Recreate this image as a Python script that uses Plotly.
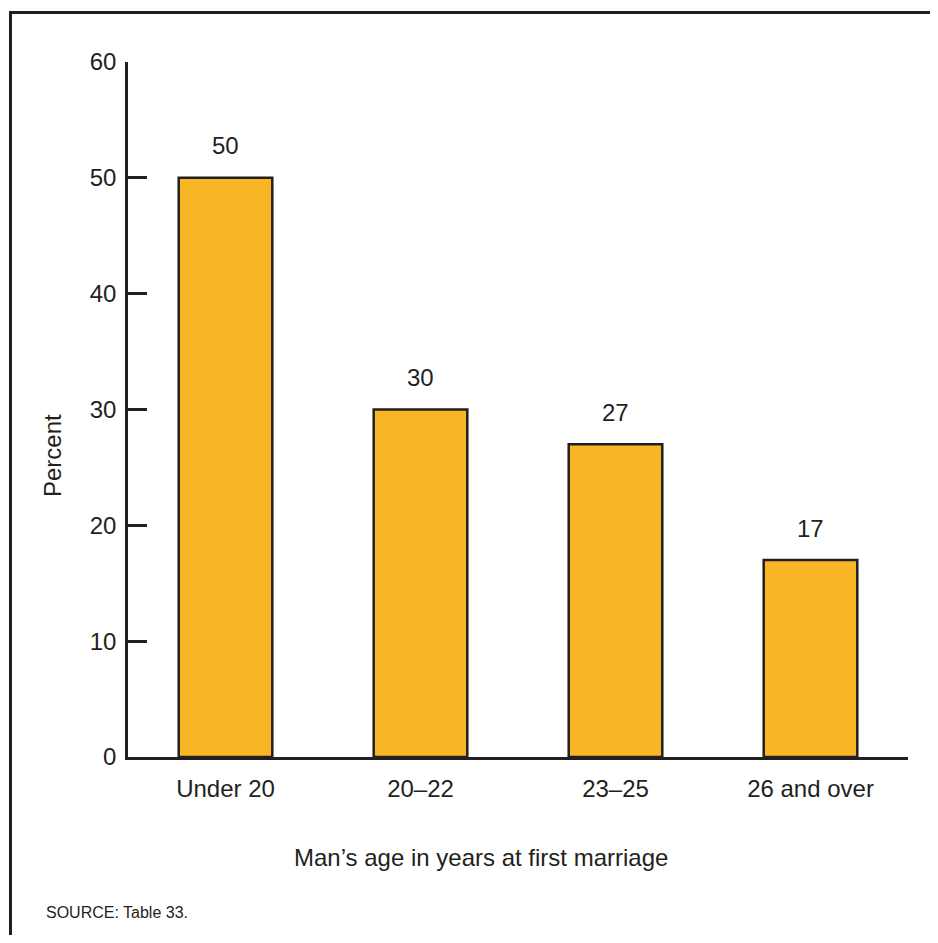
import plotly.graph_objects as go

categories = ["Under 20", "20–22", "23–25", "26 and over"]
values = [50, 30, 27, 17]
y_ticks = [0, 10, 20, 30, 40, 50, 60]

OFF = 8  # page body margin in the browser
W, H = 938 - OFF, 943 - 2 * OFF
L, R, T, B = 128 - OFF, 908 - OFF, 62 - OFF, 757 - OFF
ink = "#231f20"
font = "Liberation Sans, Arial, Helvetica, sans-serif"
FS = 24

def px(x):
    return (x - OFF - L) / (R - L)

def py(y):
    return (B - (y - OFF)) / (B - T)

fig = go.Figure(go.Bar(
    x=categories, y=values, width=0.48,
    marker=dict(color="#f9b624", line=dict(color=ink, width=2.5)),
    hoverinfo="skip",
))

for c, v in zip(categories, values):
    fig.add_annotation(x=c, y=v, text=str(v), showarrow=False,
                       xanchor="center", yanchor="middle",
                       yshift=32, font=dict(size=FS, color=ink, family=font))

fig.add_annotation(x=px(481), y=py(858), xref="paper", yref="paper",
                   text="Man’s age in years at first marriage", showarrow=False,
                   xanchor="center", yanchor="middle",
                   font=dict(size=FS, color=ink, family=font))
fig.add_annotation(x=px(52), y=py(456), xref="paper", yref="paper",
                   text="Percent", showarrow=False, textangle=-90,
                   xanchor="center", yanchor="middle",
                   font=dict(size=FS, color=ink, family=font))
fig.add_annotation(x=px(44), y=py(912), xref="paper", yref="paper",
                   text="SOURCE: Table 33.", showarrow=False,
                   xanchor="left", yanchor="middle",
                   font=dict(size=16, color=ink, family=font))

# outer frame: only the left and top edges are visible in the picture
fig.add_shape(type="line", xref="paper", yref="paper",
              x0=px(10.5), x1=px(10.5), y0=py(1100), y1=py(11),
              line=dict(color=ink, width=3), layer="below")
fig.add_shape(type="line", xref="paper", yref="paper",
              x0=px(9), x1=px(1100), y0=py(12.5), y1=py(12.5),
              line=dict(color=ink, width=3), layer="below")

fig.update_layout(
    width=W, height=H,
    margin=dict(l=L, r=W - R, t=T, b=H - B, pad=0),
    paper_bgcolor="white", plot_bgcolor="white",
    showlegend=False,
    font=dict(family=font, color=ink, size=FS),
    xaxis=dict(range=[-0.5, 3.5], showline=True, linecolor=ink, linewidth=2.5,
               ticks="", showgrid=False, zeroline=False, ticklabelstandoff=8,
               tickfont=dict(size=FS, color=ink), fixedrange=True),
    yaxis=dict(range=[0, 60], tickvals=y_ticks, showline=True, linecolor=ink, linewidth=2.5,
               ticks="inside", ticklen=19, tickwidth=2.5, tickcolor=ink,
               showgrid=False, zeroline=False, ticklabelstandoff=4,
               tickfont=dict(size=FS, color=ink), fixedrange=True),
)

fig.write_html("out.html")
